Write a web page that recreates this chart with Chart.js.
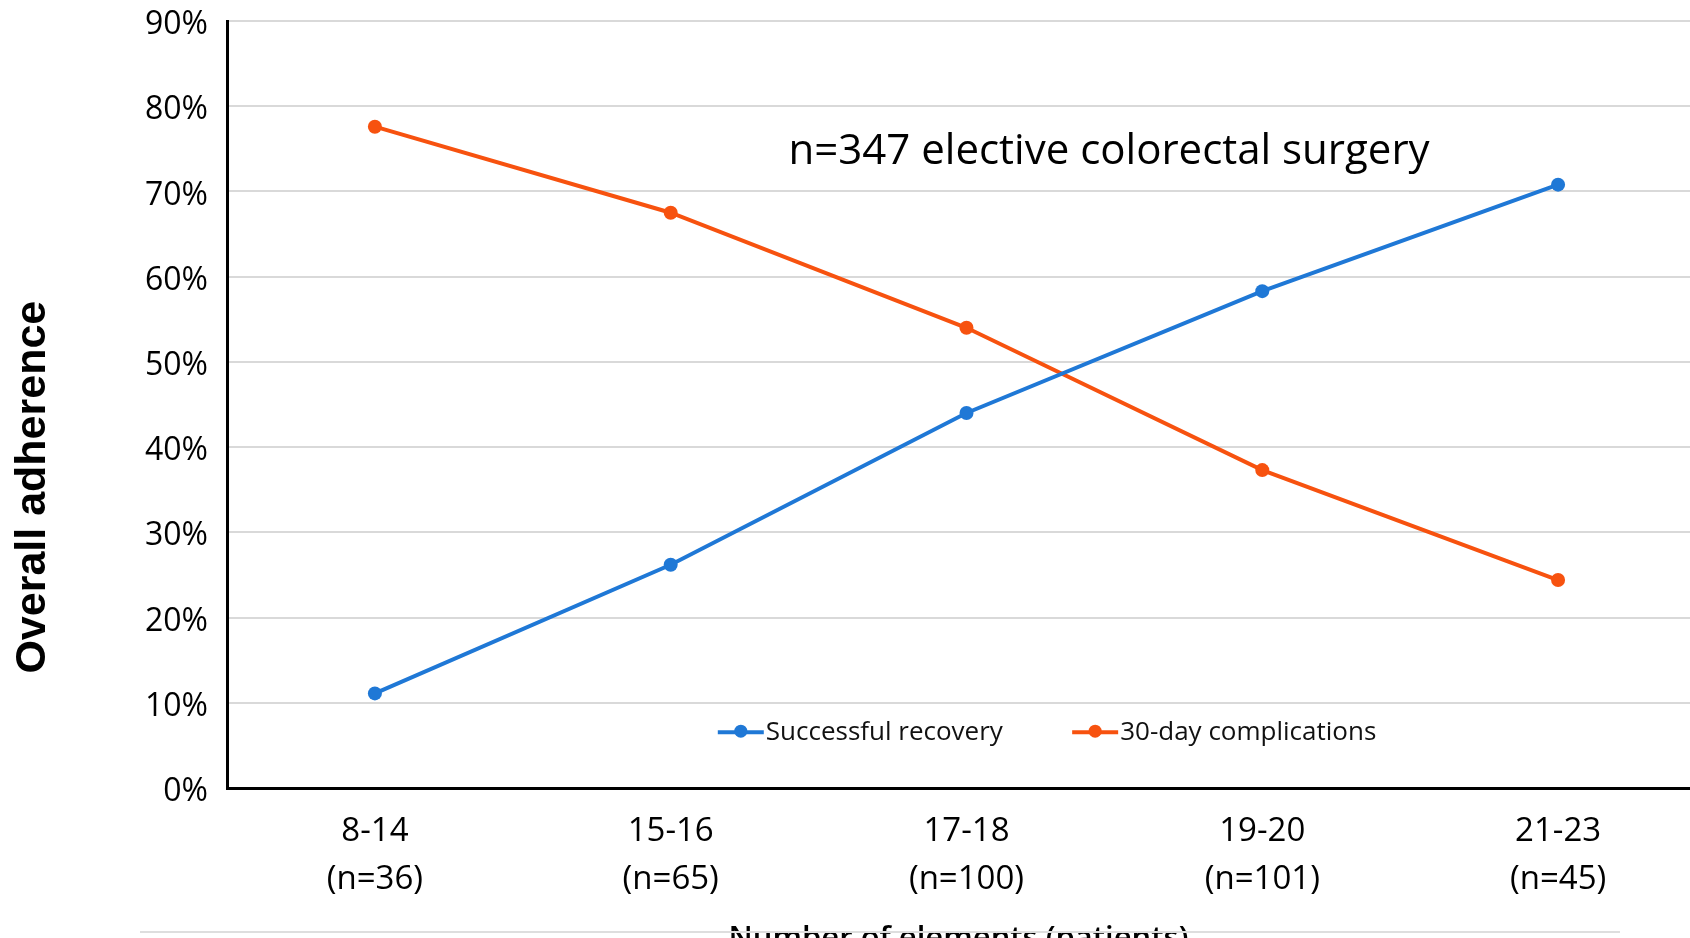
<!DOCTYPE html>
<html lang="en">
<head>
  <meta charset="UTF-8">
  <title>Overall adherence vs outcomes</title>
  <script src="https://cdn.jsdelivr.net/npm/chart.js"></script>
  <style>
    html, body { margin: 0; padding: 0; background: #fff; overflow: hidden; }
    #wrap { width: 1690px; height: 970px; position: relative; }
  </style>
</head>
<body>
  <div id="wrap"><canvas id="myChart"></canvas></div>

  <script>
    // categories (two-line tick labels)
    const groups = ['8-14', '15-16', '17-18', '19-20', '21-23'];
    const patients = ['(n=36)', '(n=65)', '(n=100)', '(n=101)', '(n=45)'];

    // series values in %
    const recovery = [11.1, 26.2, 44.0, 58.3, 70.8];
    const complications = [77.6, 67.5, 54.0, 37.3, 24.4];

    const seriesNames = ['Successful recovery', '30-day complications'];
    const seriesColors = ['#1f78d6', '#f7520f'];

    const yTicks = [0, 10, 20, 30, 40, 50, 60, 70, 80, 90];
    const noteText = 'n=347 elective colorectal surgery';
    const yTitle = 'Overall adherence';
    const xTitle = 'Number of elements (patients)';

    const toPoints = arr => arr.map((v, i) => ({ x: i, y: v }));

    // extra text + legend drawn inside the plot
    const extras = {
      id: 'extras',
      afterDraw(chart) {
        const ctx = chart.ctx;
        const xs = chart.scales.x, ys = chart.scales.y;
        ctx.save();

        // note in the plot
        ctx.fillStyle = '#000';
        ctx.font = '42px "Open Sans"';
        ctx.textAlign = 'center';
        ctx.textBaseline = 'middle';
        ctx.fillText(noteText, xs.getPixelForValue(2.482), ys.getPixelForValue(74.6));

        // y title
        ctx.save();
        ctx.translate(33, ys.getPixelForValue(35.3));
        ctx.rotate(-Math.PI / 2);
        ctx.font = 'bold 43px "Liberation Sans"';
        ctx.fillText(yTitle, 0, 0);
        ctx.restore();

        // legend
        const ly = ys.getPixelForValue(6.55);
        const starts = [1.237, 2.435];
        ctx.font = '26px "Open Sans"';
        ctx.textAlign = 'left';
        seriesNames.forEach((name, i) => {
          const cx = xs.getPixelForValue(starts[i]);
          ctx.strokeStyle = seriesColors[i];
          ctx.lineWidth = 4;
          ctx.beginPath();
          ctx.moveTo(cx - 23, ly);
          ctx.lineTo(cx + 23, ly);
          ctx.stroke();
          ctx.fillStyle = seriesColors[i];
          ctx.beginPath();
          ctx.arc(cx, ly - 1, 6.5, 0, Math.PI * 2);
          ctx.fill();
          ctx.fillStyle = '#111';
          ctx.fillText(name, cx + 25, ly);
        });

        // faint slide edge line at bottom
        ctx.strokeStyle = '#dedede';
        ctx.lineWidth = 2;
        ctx.beginPath();
        ctx.moveTo(140, 932);
        ctx.lineTo(1620, 932);
        ctx.stroke();
        ctx.restore();
      }
    };

    const ctx = document.getElementById('myChart').getContext('2d');
    new Chart(ctx, {
      type: 'line',
      data: {
        datasets: [
          {
            label: seriesNames[0],
            data: toPoints(recovery),
            borderColor: seriesColors[0],
            backgroundColor: seriesColors[0],
            borderWidth: 4,
            pointRadius: 7,
            pointBorderWidth: 0,
            pointBackgroundColor: seriesColors[0]
          },
          {
            label: seriesNames[1],
            data: toPoints(complications),
            borderColor: seriesColors[1],
            backgroundColor: seriesColors[1],
            borderWidth: 4,
            pointRadius: 7,
            pointBorderWidth: 0,
            pointBackgroundColor: seriesColors[1]
          }
        ]
      },
      options: {
        responsive: true,
        maintainAspectRatio: false,
        animation: false,
        layout: { autoPadding: false, padding: { top: 21, left: 0, right: 0, bottom: 0 } },
        plugins: {
          legend: { display: false },
          tooltip: { enabled: false }
        },
        scales: {
          x: {
            type: 'linear',
            min: -0.5,
            max: 4.446,
            afterBuildTicks: s => { s.ticks = groups.map((g, i) => ({ value: i })); },
            afterFit: s => { s.height = 182; s.paddingLeft = 0; s.paddingRight = 0; },
            grid: { display: false, drawTicks: false },
            border: { display: true, color: '#000', width: 3 },
            ticks: {
              padding: 20,
              color: '#000',
              font: { family: '"Open Sans"', size: 33, lineHeight: 1.45 },
              maxRotation: 0,
              autoSkip: false,
              callback: (v) => [groups[v], patients[v]]
            },
            title: {
              display: true,
              text: xTitle,
              color: '#000',
              font: { family: '"Open Sans"', size: 31, weight: '600' },
              padding: { top: 0, bottom: 12 }
            }
          },
          y: {
            min: 0,
            max: 90,
            afterBuildTicks: s => { s.ticks = yTicks.map(v => ({ value: v })); },
            afterFit: s => { s.width = 227; s.paddingTop = 0; s.paddingBottom = 0; },
            grid: { color: '#d9d9d9', lineWidth: 2, drawTicks: false },
            border: { display: true, color: '#000', width: 3 },
            ticks: {
              padding: 19,
              labelOffset: 4,
              color: '#000',
              font: { family: '"Open Sans"', size: 32 },
              callback: v => v + '%'
            }
          }
        }
      },
      plugins: [extras]
    });
  </script>
</body>
</html>
